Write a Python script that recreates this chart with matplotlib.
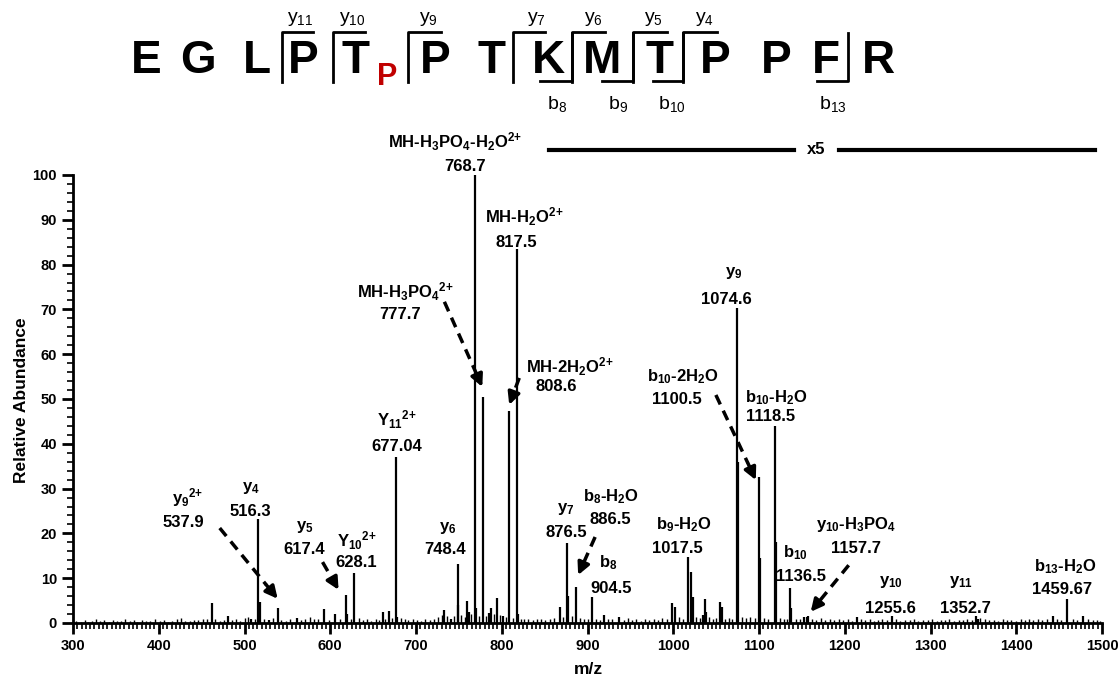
import numpy as np
import matplotlib.pyplot as plt
from matplotlib.ticker import MultipleLocator

plt.rcParams['font.family'] = ['Liberation Sans', 'DejaVu Sans']
plt.rcParams['mathtext.default'] = 'regular'

W, H = 1118, 682

# main fragment peaks (m/z, displayed relative abundance; > ~850 already x5)
peak_mz = [461.8, 480.4, 508.0, 516.3, 517.7, 529.0, 538.6, 560.8, 593.0, 606.0,
           617.8, 619.5, 628.1, 661.0, 668.0, 677.04, 678.2, 733.0, 740.5, 748.4,
           749.5, 760.0, 761.5, 768.7, 770.0, 777.7, 785.0, 787.7, 794.8, 802.0,
           808.6, 817.5, 819.0, 868.0, 876.5, 877.6, 886.7, 905.0, 919.0, 937.0,
           998.5, 1001.5, 1017.5, 1021.0, 1022.5, 1035.0, 1037.0, 1038.5, 1055.0, 1056.5,
           1074.6, 1075.6, 1100.5, 1101.5, 1118.5, 1119.5, 1136.5, 1137.8, 1153.0, 1156.0,
           1157.7, 1214.0, 1255.6, 1352.7, 1355.0, 1442.7, 1459.67, 1478.0]
peak_int = [4.5, 1.6, 0.9, 23.2, 4.7, 0.7, 3.3, 1.1, 3.1, 2.0,
            6.2, 2.0, 11.2, 2.5, 2.7, 37.0, 1.3, 3.0, 1.0, 13.2,
            4.0, 5.0, 2.5, 100.0, 3.3, 50.5, 2.2, 3.3, 5.6, 1.5,
            47.4, 83.5, 2.0, 3.6, 17.9, 6.0, 8.0, 5.8, 1.8, 1.3,
            4.5, 3.6, 14.8, 11.3, 5.8, 1.8, 5.3, 2.5, 4.7, 3.6,
            70.3, 36.0, 32.6, 14.5, 44.0, 18.0, 7.8, 3.3, 1.4, 1.4,
            1.6, 1.3, 1.5, 1.5, 1.0, 1.5, 5.4, 1.5]

noise_mz = [303, 309, 314, 318, 322, 327, 331, 336, 342, 347, 351, 356, 361, 366, 371,
            375, 380, 385, 390, 396, 401, 406, 411, 416, 421, 426, 431, 436, 441, 446,
            452, 456, 466, 471, 476, 485, 490, 495, 500, 504, 512, 523, 533, 543, 548,
            553, 566, 571, 576, 581, 586, 598, 611, 624, 633, 638, 643, 648, 653, 657,
            664, 672, 682, 687, 691, 696, 701, 706, 711, 716, 721, 726, 730, 736, 744,
            753, 757, 764, 773, 782, 791, 798, 805, 813, 822, 826, 831, 836, 841, 846,
            851, 856, 861, 872, 882, 891, 896, 901, 910, 914, 924, 929, 942, 947, 952,
            957, 962, 967, 972, 977, 982, 987, 993, 1007, 1011, 1027, 1031, 1042, 1046, 1050,
            1060, 1065, 1069, 1080, 1085, 1090, 1095, 1106, 1111, 1124, 1129, 1133, 1143, 1148, 1162,
            1167, 1172, 1177, 1183, 1188, 1193, 1198, 1204, 1209, 1219, 1224, 1229, 1234, 1239, 1244,
            1249, 1260, 1265, 1270, 1276, 1281, 1286, 1291, 1297, 1302, 1307, 1312, 1317, 1322, 1327,
            1333, 1338, 1343, 1348, 1358, 1363, 1368, 1374, 1379, 1384, 1389, 1394, 1400, 1405, 1410,
            1415, 1420, 1425, 1430, 1436, 1447, 1452, 1466, 1471, 1484, 1489, 1494, 1498]
noise_int = [0.4, 0.3, 0.6, 0.3, 0.5, 0.8, 0.4, 0.6, 0.3, 0.7, 0.4, 0.5, 0.9, 0.4, 0.6,
             0.3, 0.7, 0.4, 0.5, 0.8, 0.4, 0.6, 0.3, 0.5, 0.9, 1.2, 0.5, 0.4, 0.7, 0.6,
             0.8, 1.0, 0.9, 0.5, 0.7, 0.6, 0.9, 0.5, 1.1, 1.3, 0.8, 0.9, 1.2, 0.7, 0.5,
             0.8, 0.6, 0.9, 1.4, 0.8, 1.0, 0.7, 0.9, 1.0, 1.2, 0.6, 0.8, 0.5, 0.9, 0.7,
             1.0, 1.1, 1.2, 0.8, 0.6, 0.9, 0.7, 0.5, 0.8, 0.6, 1.0, 1.3, 1.8, 1.5, 1.6,
             1.8, 1.4, 2.0, 1.6, 1.5, 1.9, 1.7, 1.4, 1.2, 1.0, 0.9, 0.8, 0.7, 0.9, 1.0,
             0.6, 0.8, 1.1, 1.4, 1.6, 1.2, 0.8, 1.0, 0.9, 0.6, 0.8, 1.0, 0.7, 1.1, 0.6,
             0.9, 0.5, 0.8, 0.6, 1.0, 0.7, 1.2, 0.9, 1.3, 1.0, 1.4, 1.1, 1.3, 1.0, 1.2,
             1.0, 1.2, 0.9, 1.4, 1.1, 1.3, 1.2, 1.1, 1.0, 1.2, 0.9, 1.0, 0.8, 1.0, 0.9,
             0.7, 1.1, 0.6, 0.9, 0.7, 0.8, 0.6, 0.9, 0.5, 0.8, 0.6, 0.9, 0.5, 0.7, 0.8,
             0.6, 0.8, 0.5, 0.7, 0.6, 0.9, 0.5, 0.7, 0.6, 0.8, 0.5, 0.7, 0.6, 0.8, 0.5,
             0.7, 0.6, 0.9, 0.7, 1.1, 0.8, 0.6, 0.7, 0.5, 0.8, 0.6, 0.7, 0.5, 0.8, 0.6,
             0.9, 0.7, 0.8, 0.6, 0.9, 0.8, 0.6, 0.9, 0.7, 0.8, 0.6, 0.7, 0.5]

# peak annotations: (top line, bottom line, x_top, x_bottom, y_top, y_bottom)
labels = [
    ('MH-H$_3$PO$_4$-H$_2$O$^{2{+}}$', '768.7', 745.7, 757.5, 107.4, 101.8),
    ('MH-H$_2$O$^{2{+}}$', '817.5', 826.2, 816.9, 90.6, 85.0),
    ('MH-H$_3$PO$_4$$^{2{+}}$', '777.7', 687.7, 681.9, 73.9, 68.8),
    ('MH-2H$_2$O$^{2{+}}$', '808.6', 879.8, 863.5, 57.1, 52.7),
    ('y$_9$', '1074.6', 1070.7, 1062.5, 78.1, 72.1),
    ('b$_{10}$-2H$_2$O', '1100.5', 1011.3, 1004.3, 54.9, 49.8),
    ('b$_{10}$-H$_2$O', '1118.5', 1119.6, 1113.8, 50.4, 46.0),
    ('b$_9$-H$_2$O', '1017.5', 1012.5, 1004.3, 21.9, 16.7),
    ('b$_{10}$', '1136.5', 1142.9, 1148.7, 15.8, 10.3),
    ('y$_{10}$-H$_3$PO$_4$', '1157.7', 1212.7, 1212.7, 21.9, 16.7),
    ('y$_{10}$', '1255.6', 1253.5, 1253.5, 9.2, 3.3),
    ('y$_{11}$', '1352.7', 1336.1, 1340.8, 9.2, 3.3),
    ('b$_{13}$-H$_2$O', '1459.67', 1457.2, 1453.7, 12.5, 7.4),
    ('y$_4$', '516.3', 507.2, 507.2, 30.1, 24.8),
    ('y$_9$$^{2{+}}$', '537.9', 433.9, 428.1, 27.9, 22.5),
    ('y$_5$', '617.4', 570.1, 570.1, 21.4, 16.3),
    ('Y$_{10}$$^{2{+}}$', '628.1', 630.6, 630.6, 18.3, 13.4),
    ('Y$_{11}$$^{2{+}}$', '677.04', 677.2, 677.2, 45.3, 39.5),
    ('y$_6$', '748.4', 736.6, 734.2, 21.2, 16.3),
    ('y$_7$', '876.5', 875.1, 875.1, 25.4, 20.3),
    ('b$_8$-H$_2$O', '886.5', 927.5, 926.3, 28.1, 23.0),
    ('b$_8$', '904.5', 924.0, 927.5, 13.4, 7.8),
]

# dashed arrows (start, tip) in data units
arrows = [
    ((733.1, 71.7), (777.3, 52.7)),
    ((820.4, 54.7), (808.7, 48.7)),
    ((1049.7, 50.9), (1096.3, 31.9)),
    ((1204.6, 12.9), (1160.3, 2.5)),
    ((471.1, 21.2), (538.7, 5.4)),
    ((591.0, 13.6), (609.7, 7.4)),
    ((908.9, 19.2), (889.1, 10.7)),
]

# peptide sequence (pixel positions in the figure)
residues = ['E', 'G', 'L', 'P', 'T', 'P', 'T', 'K', 'M', 'T', 'P', 'P', 'F', 'R']
residue_x = [146, 198, 257, 303, 355, 435, 491, 548, 602, 660, 715, 776, 826, 878]
y_ions = [('y$_{11}$', 282, 313, 300), ('y$_{10}$', 333, 365, 352), ('y$_9$', 408, 441, 428),
          ('y$_7$', 513, 545, 536), ('y$_6$', 572, 605, 593), ('y$_5$', 633, 667, 653),
          ('y$_4$', 683, 717, 705)]
b_ions = [('b$_8$', 540, 572, 557), ('b$_9$', 602, 633, 618), ('b$_{10}$', 653, 683, 672),
          ('b$_{13}$', 817, 848, 833)]


def fx(x):
    return x / W


def fy(y):
    return 1 - y / H


fig = plt.figure(figsize=(W / 100, H / 100), dpi=100)
ax = fig.add_axes([73 / W, 59 / H, 1029 / W, 448 / H])

ax.vlines(noise_mz, 0, noise_int, color='black', lw=1.0)
ax.vlines(peak_mz, 0, peak_int, color='black', lw=1.6, clip_on=False)

ax.set_xlim(300, 1500)
ax.set_ylim(0, 100)
for s in ['top', 'right']:
    ax.spines[s].set_visible(False)
for s in ['left', 'bottom']:
    ax.spines[s].set_linewidth(2)
ax.xaxis.set_major_locator(MultipleLocator(100))
ax.xaxis.set_minor_locator(MultipleLocator(5))
ax.yaxis.set_major_locator(MultipleLocator(10))
ax.yaxis.set_minor_locator(MultipleLocator(2))
ax.tick_params(which='major', direction='out', length=8, width=2, labelsize=10.5)
ax.tick_params(which='minor', direction='out', length=4, width=1.2)
for lab in ax.get_xticklabels() + ax.get_yticklabels():
    lab.set_fontweight('bold')

fig.text(fx(22), fy(400), 'Relative Abundance', rotation=90, ha='center', va='center',
         fontsize=12.5, fontweight='bold')
fig.text(fx(588), fy(670), 'm/z', ha='center', va='center', fontsize=12.5, fontweight='bold')

for top, bottom, x1, x2, y1, y2 in labels:
    ax.text(x1, y1, top, ha='center', va='center', fontsize=12, fontweight='bold', clip_on=False)
    ax.text(x2, y2, bottom, ha='center', va='center', fontsize=12, fontweight='bold', clip_on=False)

for (x0, y0), (x1, y1) in arrows:
    xm = x0 + (x1 - x0) * 0.8
    ym = y0 + (y1 - y0) * 0.8
    ax.plot([x0, xm], [y0, ym], color='black', lw=2.5, ls=(0, (3, 2)))
    ax.annotate('', xy=(x1, y1), xytext=(xm, ym),
                arrowprops=dict(arrowstyle='-|>', color='black', lw=2.5,
                                mutation_scale=18, shrinkA=0, shrinkB=0))

# x5 magnification bar
ax.plot([855, 1141], [105.6, 105.6], color='black', lw=3, clip_on=False)
ax.plot([1193, 1492], [105.6, 105.6], color='black', lw=3, clip_on=False)
ax.text(1167, 105.6, 'x5', ha='center', va='center', fontsize=12, fontweight='bold')

# sequence with fragment markers
for r, x in zip(residues, residue_x):
    fig.text(fx(x), fy(61), r, ha='center', va='center', fontsize=33, fontweight='bold')
fig.text(fx(387), fy(77), 'P', ha='center', va='center', fontsize=22, fontweight='bold',
         color='#c00000')

for name, xv, xh, xl in y_ions:
    fig.add_artist(plt.Line2D([fx(xv), fx(xv), fx(xh)], [fy(82), fy(32), fy(32)],
                              color='black', lw=2, transform=fig.transFigure))
    fig.text(fx(xl), fy(19), name, ha='center', va='center', fontsize=14)
for name, xh, xv, xl in b_ions:
    fig.add_artist(plt.Line2D([fx(xh), fx(xv), fx(xv)], [fy(81), fy(81), fy(33)],
                              color='black', lw=2, transform=fig.transFigure))
    fig.text(fx(xl), fy(104), name, ha='center', va='center', fontsize=14)

fig.savefig('out.png', dpi=100)
